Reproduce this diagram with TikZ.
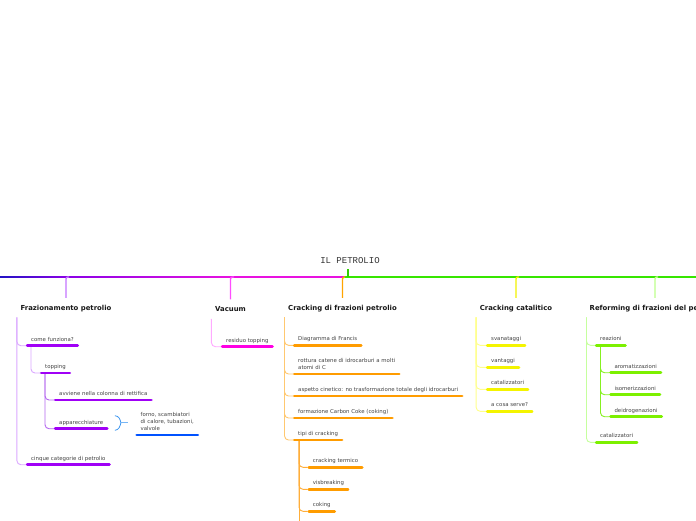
\documentclass[tikz,border=0pt]{standalone}
\usepackage{fontspec}
\setmainfont{DejaVu Sans}
\newfontfamily\monofont{Liberation Mono}
\usetikzlibrary{calc}
\definecolor{txt}{HTML}{444444}
\definecolor{lineBlue}{HTML}{2212C4}
\definecolor{linePurple}{HTML}{8A00E6}
\definecolor{lineMag}{HTML}{E812E0}
\definecolor{lineGreen}{HTML}{36E600}
\definecolor{dropF}{HTML}{C474FF}
\definecolor{dropV}{HTML}{FF4CFF}
\definecolor{dropC}{HTML}{FFA400}
\definecolor{dropK}{HTML}{F2F200}
\definecolor{dropR}{HTML}{BEFF8C}
\definecolor{barP}{HTML}{A000F6}
\definecolor{barB}{HTML}{0052FF}
\definecolor{braceB}{HTML}{3C96F0}
\definecolor{barM}{HTML}{FF00E4}
\definecolor{barO}{HTML}{FF9C00}
\definecolor{barY}{HTML}{F4F400}
\definecolor{barG}{HTML}{7CF000}
\definecolor{trF}{HTML}{DBA8FF}
\definecolor{trF3}{HTML}{B466F0}
\definecolor{trV}{HTML}{FFAAFF}
\definecolor{trC}{HTML}{FFC870}
\definecolor{trC2}{HTML}{FFAE3A}
\definecolor{trK}{HTML}{FFFF8E}
\definecolor{trR}{HTML}{C6FF9E}
\definecolor{trR2}{HTML}{86F020}
\newcommand\barof[2]{\draw[bar,#1] (#2.south west) -- (#2.south east);}
\begin{document}
\begin{tikzpicture}[x=1pt,y=-1pt,
  lbl/.style={font=\fontsize{5.4}{6.5}\selectfont, text=txt, inner xsep=5pt, inner ysep=3.2pt, text depth=1.3pt, anchor=south west, align=left},
  topic/.style={font=\bfseries\fontsize{6.9}{8}\selectfont, text=black!90, inner xsep=0pt, inner ysep=6.8pt, text height=5.2pt, text depth=1.4pt, anchor=base},
  bar/.style={line width=2.8pt, line cap=round, shorten <=1.2pt, shorten >=1.2pt},
  elbow/.style={line width=0.9pt, rounded corners=4pt},
  drop/.style={line width=1.4pt, rounded corners=2pt},
]
\useasboundingbox (0,0) rectangle (696,520);
\clip (0,0) rectangle (696,520);
\fill[white] (0,0) rectangle (696,520);

% title and main line
\node[font=\monofont\fontsize{9}{10}\selectfont, text=black!80, anchor=base, inner sep=0pt] (root) at (350,263.5) {IL PETROLIO};
\coordinate (mF) at (66,277);
\coordinate (mV) at (231,277);
\coordinate (mC) at (343,277);
\coordinate (mK) at (516,277);
\coordinate (mR) at (655,277);
\coordinate (tick) at (348,277);
\shade[left color=lineBlue, right color=linePurple] (0,276.4) rectangle (66,277.6);
\shade[left color=linePurple, right color=lineMag] (66,276.4) rectangle (231,277.6);
\fill[lineMag] (231,276.4) rectangle (344,277.6);
\fill[lineGreen] (344,276.4) rectangle (696,277.6);
\draw[line width=2pt, lineGreen!90!black] (tick) -- ($(root.south)+(-2,5)$);

% topics
\node[topic] (F) at (66,310) {Frazionamento petrolio};
\node[topic] (V) at (230.5,311.5) {Vacuum};
\node[topic] (C) at (342.5,310) {Cracking di frazioni petrolio};
\node[topic] (K) at (516,310) {Cracking catalitico};
\node[topic, anchor=base west] (R) at (589.5,310) {Reforming di frazioni del petrolio};

\draw[drop, dropF] ($(mF)+(3,0)$) -| (F.north);
\draw[drop, dropV] ($(mV)+(3,0)$) -| (V.north);
\draw[drop, dropC] ($(mC)+(2,0)$) -| (C.north);
\draw[drop, dropK] ($(mK)+(3,0)$) -| (K.north);
\draw[drop, dropR] ($(mR)+(3,0)$) -| (mR |- R.north);

% Frazionamento children
\node[lbl] (come) at (26,345.7) {come funziona?};
\node[lbl] (topping) at (40,373) {topping};
\node[lbl] (avviene) at (54,400) {avviene nella colonna di rettifica};
\node[lbl] (app) at (54,428.7) {apparecchiature};
\node[lbl, font=\fontsize{5.4}{6.7}\selectfont] (forno) at (135.5,435) {forno, scambiatori\\di calore, tubazioni,\\valvole};
\node[lbl] (cinque) at (26,464.7) {cinque categorie di petrolio};

\draw[elbow, trF] ($(F.south west)+(-3.5,-1)$) |- (come.south west);
\draw[elbow, trF] ($(F.south west)+(-3.5,-1)$) |- (cinque.south west);
\draw[elbow, trF] ($(come.south west)+(5,0)$) |- (topping.south west);
\draw[elbow, trF3] ($(topping.south west)+(5,0)$) |- (avviene.south west);
\draw[elbow, trF3] ($(topping.south west)+(5,0)$) |- (app.south west);
\barof{barP}{come}
\barof{barP}{topping}
\barof{barP}{avviene}
\barof{barP}{app}
\barof{barP}{cinque}
\barof{barB}{forno}
\draw[braceB, line width=0.8pt] ($(app.south east)+(6.5,-13)$) .. controls +(4,0.5) and +(-1,-4) .. ($(app.south east)+(12.5,-6)$) .. controls +(-1,4) and +(4,-0.5) .. ($(app.south east)+(6.5,1.6)$);
\draw[braceB!70, line width=1pt] ($(app.south east)+(12.5,-6)$) -- ($(app.south east)+(19.5,-6)$);

% Vacuum
\node[lbl] (residuo) at (221,346.7) {residuo topping};
\draw[elbow, trV] ($(V.south west)+(-3.5,-1)$) |- (residuo.south west);
\barof{barM}{residuo}

% Cracking di frazioni
\node[lbl] (diag) at (293,345.3) {Diagramma di Francis};
\node[lbl] (rott) at (293,374) {rottura catene di idrocarburi a molti\\atomi di C};
\node[lbl] (asp) at (293,396) {aspetto cinetico: no trasformazione totale degli idrocarburi};
\node[lbl] (form) at (293,418) {formazione Carbon Coke (coking)};
\node[lbl] (tipi) at (293,440) {tipi di cracking};
\node[lbl] (term) at (307.7,467.3) {cracking termico};
\node[lbl] (visb) at (307.7,489.3) {visbreaking};
\node[lbl] (cok) at (307.7,511.3) {coking};
\foreach \n in {diag,rott,asp,form,tipi}{
  \draw[elbow, trC] ($(C.south west)+(-3.5,-1)$) |- (\n.south west);
}
\draw[elbow, trC2] ($(tipi.south west)+(6,0)$) -- ++(0,100);
\foreach \n in {term,visb,cok}{
  \draw[elbow, trC2] ($(tipi.south west)+(6,0)$) |- (\n.south west);
}
\foreach \n in {diag,rott,asp,form,tipi,term,visb,cok}{ \barof{barO}{\n} }

% Cracking catalitico
\node[lbl] (svan) at (486,345.3) {svanataggi};
\node[lbl] (vant) at (486,367.3) {vantaggi};
\node[lbl] (catK) at (486,389.3) {catalizzatori};
\node[lbl] (serve) at (486,411.3) {a cosa serve?};
\foreach \n in {svan,vant,catK,serve}{
  \draw[elbow, trK] ($(K.south west)+(-3.5,-1)$) |- (\n.south west);
}
\foreach \n in {svan,vant,catK,serve}{ \barof{barY}{\n} }

% Reforming
\node[lbl] (reaz) at (595,345.3) {reazioni};
\node[lbl] (arom) at (609.3,372.7) {aromatizzazioni};
\node[lbl] (isom) at (609.3,394.7) {isomerizzazioni};
\node[lbl] (deid) at (609.3,416.7) {deidrogenazioni};
\node[lbl] (catR) at (595,442.3) {catalizzatori};
\foreach \n in {reaz,catR}{
  \draw[elbow, trR] ($(R.south west)+(-3,-1)$) |- (\n.south west);
}
\foreach \n in {arom,isom,deid}{
  \draw[elbow, trR2] ($(reaz.south west)+(5.5,0)$) |- (\n.south west);
}
\foreach \n in {reaz,arom,isom,deid,catR}{ \barof{barG}{\n} }
\end{tikzpicture}
\end{document}
